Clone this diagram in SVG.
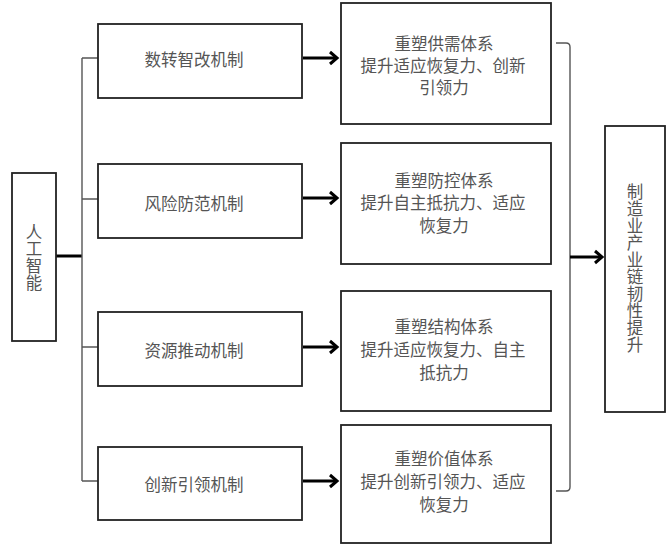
<svg xmlns="http://www.w3.org/2000/svg" width="669" height="546" viewBox="0 0 669 546">
<defs>
<style>
.box{fill:#fff;stroke:#222;stroke-width:1.8}
.t{font-family:"Noto Sans CJK SC","Liberation Sans",sans-serif;font-size:16.5px;fill:#555;text-anchor:middle;dominant-baseline:central}
.v{font-family:"Noto Sans CJK SC","Liberation Sans",sans-serif;font-size:16.5px;fill:#555;text-anchor:middle;writing-mode:vertical-rl;letter-spacing:0.5px}
.thin{fill:none;stroke:#555;stroke-width:1.4}
.arr{fill:none;stroke:#000;stroke-width:3}
.head{fill:none;stroke:#000;stroke-width:3;stroke-linejoin:miter}
</style>
</defs>
<rect width="669" height="546" fill="#fff"/>
<g id="connectors">
<path class="arr" d="M56 256H82" stroke-width="2.2"/>
<path class="thin" d="M82 58V481"/>
<path class="thin" d="M82 58H98M82 199H98M82 347H98M82 481H98"/>
<path class="arr" d="M303 58H336M303 198H336M303 347H336M303 481H336"/>
<path class="head" d="M330 52L337 58L330 64M330 192L337 198L330 204M330 341L337 347L330 353M330 475L337 481L330 487"/>
<path class="thin" d="M556 43H566Q570 43 570 47V487Q570 491 566 491H556"/>
<path class="arr" d="M570 257H601"/>
<path class="head" d="M595 251L602 257L595 263"/>
</g>
<g id="n-ai">
<rect class="box" x="12" y="173" width="44" height="168"/>
<text class="v" x="34" y="257">人工智能</text>
</g>
<g id="n-m1"><rect class="box" x="98" y="24" width="204" height="74"/><text class="t" x="194" y="59">数转智改机制</text></g>
<g id="n-m2"><rect class="box" x="98" y="164" width="204" height="74"/><text class="t" x="194" y="203">风险防范机制</text></g>
<g id="n-m3"><rect class="box" x="98" y="312" width="204" height="74"/><text class="t" x="194" y="350">资源推动机制</text></g>
<g id="n-m4"><rect class="box" x="98" y="447" width="204" height="73"/><text class="t" x="194" y="484">创新引领机制</text></g>
<g id="n-r1"><rect class="box" x="341" y="3" width="210" height="121"/>
<text class="t" x="444" y="43">重塑供需体系</text><text class="t" x="443" y="65">提升适应恢复力、创新</text><text class="t" x="444" y="87">引领力</text></g>
<g id="n-r2"><rect class="box" x="341" y="143" width="210" height="121"/>
<text class="t" x="444" y="180">重塑防控体系</text><text class="t" x="443" y="202">提升自主抵抗力、适应</text><text class="t" x="444" y="225">恢复力</text></g>
<g id="n-r3"><rect class="box" x="341" y="291" width="210" height="120"/>
<text class="t" x="444" y="326">重塑结构体系</text><text class="t" x="443" y="349">提升适应恢复力、自主</text><text class="t" x="444" y="372">抵抗力</text></g>
<g id="n-r4"><rect class="box" x="341" y="425" width="210" height="118"/>
<text class="t" x="444" y="458">重塑价值体系</text><text class="t" x="443" y="481">提升创新引领力、适应</text><text class="t" x="444" y="504">恢复力</text></g>
<g id="n-out"><rect class="box" x="605" y="126" width="60" height="286"/>
<text class="v" x="635" y="268">制造业产业链韧性提升</text>
</g>
</svg>
